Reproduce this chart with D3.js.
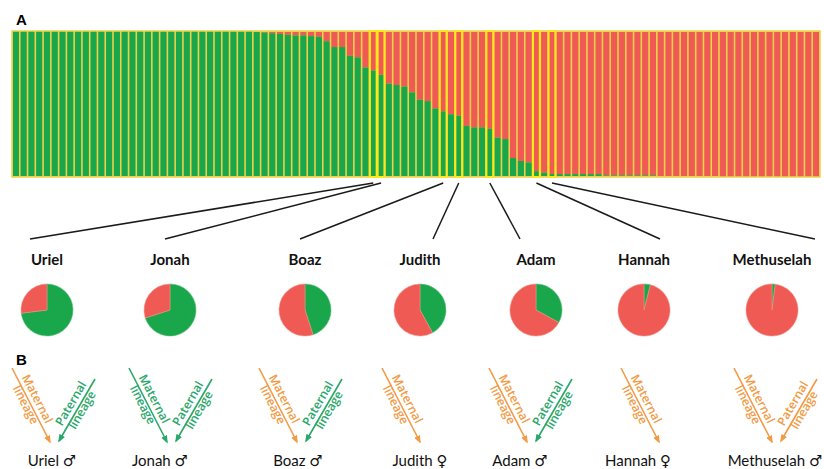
<!DOCTYPE html>
<html>
<head>
<meta charset="utf-8">
<script src="https://cdn.jsdelivr.net/npm/d3@7"></script>
<style>
  body { margin: 0; background: #ffffff; }
  svg { display: block; font-family: Lato, 'Open Sans', sans-serif; }
</style>
</head>
<body>
<div id="chart"></div>
<script>
// Share of the green ancestry component for each sample (sorted)
const greenShare = [
  1, 1, 1, 1, 1, 1, 1, 1, 1, 1,
  1, 1, 1, 1, 1, 1, 1, 1, 1, 1,
  1, 1, 1, 1, 1, 1, 1, 1, 1, 1,
  1, 0.995, 0.99, 0.985, 0.98, 0.975, 0.97, 0.97, 0.965, 0.96,
  0.93, 0.89, 0.89, 0.83, 0.82, 0.75, 0.73, 0.70, 0.64, 0.63,
  0.62, 0.58, 0.53, 0.52, 0.47, 0.45, 0.43, 0.42, 0.35, 0.34,
  0.34, 0.33, 0.27, 0.26, 0.13, 0.11, 0.10, 0.04, 0.03, 0.02,
  0.02, 0.02, 0.02, 0.02, 0.02, 0.02, 0.012, 0.012, 0.012, 0.012,
  0.012, 0.012, 0.012, 0.006, 0.006, 0.006, 0.006, 0.006, 0.006, 0.006,
  0.006, 0, 0, 0, 0, 0, 0, 0, 0, 0,
  0, 0, 0, 0
];

// Highlighted individuals
const names = ['Uriel', 'Jonah', 'Boaz', 'Judith', 'Adam', 'Hannah', 'Methuselah'];
const barIndex = [46, 47, 55, 57, 61, 67, 69];
const pieGreen = [0.73, 0.70, 0.45, 0.42, 0.33, 0.04, 0.02];
const sexSymbol = ['♂', '♂', '♂', '♀', '♂', '♀', '♂'];
const maternalLine = ['red', 'green', 'red', 'red', 'red', 'red', 'red'];
const paternalLine = ['green', 'green', 'green', null, 'green', null, 'red'];

// Layout (pixel positions of the annotation groups)
const pieX = [47, 170, 305, 420, 536, 644, 772];
const linkEndX = [30, 165, 300, 433, 520, 660, 815];
const arrowX = [54, 171, 301, 424, 531, 663, 776];
const nameX = [52, 160, 298, 420, 520, 638, 775];

const W = 824, H = 469;
const GREEN = '#1aa64a', RED = '#ef5a55';
const SEP = '#ecd24a', HILITE = '#ffe81a';
const LINE_COL = { red: '#f29a45', green: '#2aa76a' };

const svg = d3.select('#chart').append('svg')
  .attr('width', W)
  .attr('height', H);

// ---- Panel A: stacked ancestry bars ----
const plot = { left: 12, right: 820, top: 31, bottom: 177 };

const x = d3.scaleBand()
  .domain(d3.range(greenShare.length))
  .range([plot.left, plot.right]);

const y = d3.scaleLinear()
  .domain([0, 1])
  .range([plot.bottom, plot.top]);

svg.append('text')
  .attr('x', 16).attr('y', 25)
  .attr('font-family', 'Liberation Sans, Arial, sans-serif')
  .attr('font-weight', 'bold')
  .attr('font-size', 15)
  .text('A');

// separator colour shows through the gaps between bars
svg.append('rect')
  .attr('x', plot.left).attr('y', plot.top)
  .attr('width', plot.right - plot.left)
  .attr('height', plot.bottom - plot.top)
  .attr('fill', SEP);

const gap = 0.8;
const bars = svg.append('g').selectAll('g')
  .data(greenShare)
  .join('g');

bars.append('rect')
  .attr('x', (d, i) => x(i) + gap)
  .attr('y', plot.top + 1)
  .attr('width', x.bandwidth() - 2 * gap)
  .attr('height', d => Math.max(0, y(d) - plot.top - 1))
  .attr('fill', RED);

bars.append('rect')
  .attr('x', (d, i) => x(i) + gap)
  .attr('y', d => y(d))
  .attr('width', x.bandwidth() - 2 * gap)
  .attr('height', d => plot.bottom - 1 - y(d) > 0 ? plot.bottom - 1 - y(d) : 0)
  .attr('fill', GREEN);

// frame
svg.append('rect')
  .attr('x', plot.left).attr('y', plot.top)
  .attr('width', plot.right - plot.left)
  .attr('height', plot.bottom - plot.top)
  .attr('fill', 'none')
  .attr('stroke', SEP)
  .attr('stroke-width', 1.5);

// highlighted individuals
svg.append('g').selectAll('rect')
  .data(barIndex)
  .join('rect')
  .attr('x', d => x(d) + 0.5)
  .attr('y', plot.top)
  .attr('width', x.bandwidth() - 1)
  .attr('height', plot.bottom - plot.top)
  .attr('fill', 'none')
  .attr('stroke', HILITE)
  .attr('stroke-width', 2);

// connector lines
svg.append('g').selectAll('line')
  .data(barIndex)
  .join('line')
  .attr('x1', d => x(d) + x.bandwidth() / 2)
  .attr('y1', plot.bottom + 6)
  .attr('x2', (d, i) => linkEndX[i])
  .attr('y2', 239)
  .attr('stroke', '#1a1a1a')
  .attr('stroke-width', 1.5);

// names and pies
svg.append('g').selectAll('text')
  .data(names)
  .join('text')
  .attr('x', (d, i) => pieX[i])
  .attr('y', 265)
  .attr('text-anchor', 'middle')
  .attr('font-weight', 'bold')
  .attr('font-size', 15)
  .attr('fill', '#111')
  .text(d => d);

const pie = d3.pie().sort(null).value(d => d);
const arc = d3.arc().innerRadius(0).outerRadius(26);

names.forEach((n, i) => {
  const g = svg.append('g')
    .attr('transform', `translate(${pieX[i]},310)`);
  g.selectAll('path')
    .data(pie([pieGreen[i], 1 - pieGreen[i]]))
    .join('path')
    .attr('d', arc)
    .attr('fill', (d, j) => j === 0 ? GREEN : RED)
    .attr('stroke', (d, j) => j === 0 ? '#5cc07a' : '#f49080')
    .attr('stroke-width', 0.6);
});

// ---- Panel B: lineage arrows ----
svg.append('text')
  .attr('x', 16).attr('y', 365)
  .attr('font-family', 'Liberation Sans, Arial, sans-serif')
  .attr('font-weight', 'bold')
  .attr('font-size', 15)
  .text('B');

const defs = svg.append('defs');
Object.keys(LINE_COL).forEach(k => {
  defs.append('marker')
    .attr('id', 'head-' + k)
    .attr('viewBox', '0 0 10 10')
    .attr('refX', 8).attr('refY', 5)
    .attr('markerWidth', 5).attr('markerHeight', 5)
    .attr('orient', 'auto')
    .append('path')
    .attr('d', 'M0,1 L10,5 L0,9 Z')
    .attr('fill', LINE_COL[k]);
});

function lineageArrow(x1, y1, x2, y2, colorKey, word, labelFromEnd) {
  const col = LINE_COL[colorKey];
  svg.append('line')
    .attr('x1', x1).attr('y1', y1)
    .attr('x2', x2).attr('y2', y2)
    .attr('stroke', col)
    .attr('stroke-width', 1.6)
    .attr('marker-end', `url(#head-${colorKey})`);

  // text reads along the line
  const ang = labelFromEnd
    ? Math.atan2(y1 - y2, x1 - x2) * 180 / Math.PI
    : Math.atan2(y2 - y1, x2 - x1) * 180 / Math.PI;
  const mx = (x1 + x2) / 2, my = (y1 + y2) / 2 - 3;
  const t = svg.append('g')
    .attr('transform', `translate(${mx},${my}) rotate(${ang})`)
    .attr('fill', col)
    .attr('font-family', "'Open Sans', sans-serif")
    .attr('font-weight', 600)
    .attr('font-size', 12)
    .attr('text-anchor', 'middle');
  t.append('text').attr('y', -3).text(word);
  t.append('text').attr('y', 10).text('lineage');
}

names.forEach((n, i) => {
  const ax = arrowX[i];
  lineageArrow(ax - 42, 368, ax - 4, 442, maternalLine[i], 'Maternal', false);
  if (paternalLine[i]) {
    lineageArrow(ax + 41, 379, ax + 5, 441, paternalLine[i], 'Paternal', true);
  }
});

const bottomNames = svg.append('g').selectAll('text')
  .data(names)
  .join('text')
  .attr('x', (d, i) => nameX[i])
  .attr('y', 466)
  .attr('text-anchor', 'middle')
  .attr('font-size', 15)
  .attr('fill', '#111');

bottomNames.append('tspan').text(d => d + ' ');
bottomNames.append('tspan')
  .attr('font-family', "'DejaVu Sans', sans-serif")
  .attr('font-size', 15)
  .text((d, i) => sexSymbol[i]);
</script>
</body>
</html>
